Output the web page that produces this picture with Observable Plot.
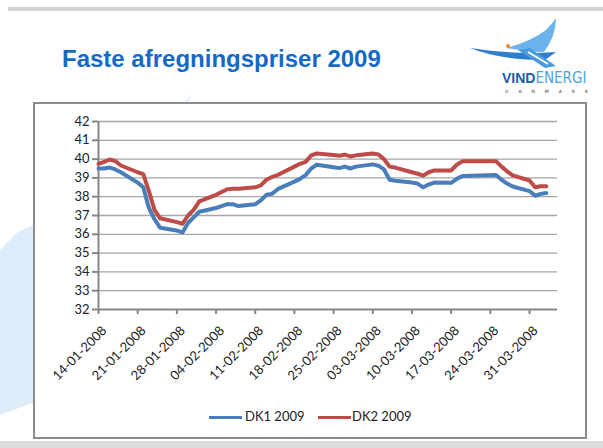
<!DOCTYPE html>
<html>
<head>
<meta charset="utf-8">
<script src="https://cdn.jsdelivr.net/npm/d3@7"></script>
<script src="https://cdn.jsdelivr.net/npm/@observablehq/plot@0.6"></script>
<style>
  html, body { margin: 0; padding: 0; background: #fff; }
  #page { position: relative; width: 603px; height: 448px; overflow: hidden; background: #fff; font-family: Lato, "Open Sans", sans-serif; }
  #title { position: absolute; left: 62px; top: 45px; font: bold 24px "Liberation Sans", Arial, sans-serif; color: #1469c7; white-space: nowrap; }
  #frame { position: absolute; left: 33px; top: 102px; width: 550px; height: 333px; border: 2px solid #8c8c8c; background: #fff; }
  #chart { position: absolute; left: 34px; top: 103px; }
  .leg { position: absolute; font: 13px Lato, sans-serif; color: #222; white-space: nowrap; }
  .sw { position: absolute; height: 3px; }
</style>
</head>
<body>
<div id="page">
  <svg width="603" height="448" style="position:absolute;left:0;top:0">
    <rect x="8" y="7" width="595" height="4" fill="#d4d4d4"/>
    <rect x="0" y="441" width="603" height="7" fill="#dcdcdc"/>
    <path d="M0,250 L18,232 L40,222 L40,400 L0,415 Z" fill="#dcecf9"/>
    <path d="M178,112 Q184,100 192,94 Q188,104 184,114 Z" fill="#e8f2fb"/>
    <!-- logo bird -->
    <path d="M470,48 Q500,60 545,60 L556,52 Q515,55 470,48 Z" fill="#2f7fcf"/>
    <path d="M506,48 Q530,42 546,30 Q552,24 556,18 Q556,36 544,52 Q528,52 506,48 Z" fill="#6bb3ea"/>
    <path d="M518,50 L545,68 L556,66 L530,48 Z" fill="#4a9ae0"/>
    <path d="M528,52 L548,64" stroke="#fff" stroke-width="2"/>
    <circle cx="508" cy="46" r="2" fill="#f08a24"/>
    <text x="502" y="83" font-family="'Liberation Sans', Arial, sans-serif" font-size="14" font-weight="bold" fill="#1b5ea8">VIND<tspan font-weight="normal" fill="#4aa2e0" font-family="'Liberation Sans Narrow', 'DejaVu Sans Condensed', sans-serif" font-size="15">ENERGI</tspan></text>
    <text x="505" y="93" font-family="'DejaVu Sans', sans-serif" font-size="4.5" fill="#333" letter-spacing="10">DANMARK</text>
  </svg>
  <div id="title">Faste afregningspriser 2009</div>
  <div id="frame"></div>
  <div id="chart"></div>
  <div class="sw" style="left:209px;top:416px;width:33px;background:#4a7ebb"></div>
  <div class="leg" style="left:245px;top:408px">DK1 2009</div>
  <div class="sw" style="left:318px;top:416px;width:33px;background:#be4b48"></div>
  <div class="leg" style="left:352px;top:408px">DK2 2009</div>
</div>
<script>
// ---- data ----
const dates = [
  "2008-01-14","2008-01-15","2008-01-16","2008-01-17","2008-01-18",
  "2008-01-21","2008-01-22","2008-01-23","2008-01-24","2008-01-25",
  "2008-01-28","2008-01-29","2008-01-30","2008-01-31","2008-02-01",
  "2008-02-04","2008-02-05","2008-02-06","2008-02-07","2008-02-08",
  "2008-02-11","2008-02-12","2008-02-13","2008-02-14","2008-02-15",
  "2008-02-18","2008-02-19","2008-02-20","2008-02-21","2008-02-22",
  "2008-02-25","2008-02-26","2008-02-27","2008-02-28","2008-02-29",
  "2008-03-03","2008-03-04","2008-03-05","2008-03-06","2008-03-07",
  "2008-03-10","2008-03-11","2008-03-12","2008-03-13","2008-03-14",
  "2008-03-17","2008-03-18","2008-03-19","2008-03-25","2008-03-26",
  "2008-03-27","2008-03-28","2008-03-31","2008-04-01","2008-04-02","2008-04-03"
];
const dk1 = [
  39.5, 39.5, 39.55, 39.45, 39.3,
  38.75, 38.5, 37.4, 36.8, 36.35,
  36.2, 36.1, 36.6, 36.9, 37.2,
  37.4, 37.5, 37.6, 37.6, 37.5,
  37.6, 37.8, 38.1, 38.15, 38.4,
  38.8, 38.95, 39.15, 39.5, 39.7,
  39.57, 39.52, 39.6, 39.5, 39.6,
  39.72, 39.65, 39.45, 38.9, 38.85,
  38.75, 38.7, 38.5, 38.65, 38.75,
  38.74, 38.95, 39.1, 39.16, 38.9,
  38.7, 38.54, 38.3, 38.05, 38.15, 38.2
];
const dk2 = [
  39.75, 39.85, 39.98, 39.9, 39.66,
  39.3, 39.2, 38.3, 37.3, 36.85,
  36.65, 36.56, 37.0, 37.3, 37.75,
  38.1, 38.25, 38.4, 38.42, 38.42,
  38.5, 38.6, 38.9, 39.05, 39.15,
  39.6, 39.75, 39.85, 40.2, 40.3,
  40.22, 40.18, 40.24, 40.14, 40.2,
  40.3, 40.25, 40.0, 39.6, 39.55,
  39.3, 39.22, 39.12, 39.3, 39.4,
  39.4, 39.7, 39.88, 39.89, 39.6,
  39.35, 39.13, 38.86, 38.5, 38.56, 38.55
];
const seriesNames = ["DK1 2009", "DK2 2009"];
const seriesColors = ["#4a7ebb", "#be4b48"];
const yTicks = [32, 33, 34, 35, 36, 37, 38, 39, 40, 41, 42];
const xTickDates = [
  "2008-01-14","2008-01-21","2008-01-28","2008-02-04","2008-02-11","2008-02-18",
  "2008-02-25","2008-03-03","2008-03-10","2008-03-17","2008-03-24","2008-03-31"
];
const xDomain = ["2008-01-14", "2008-04-05"];

// ---- build table ----
const parse = d3.utcParse("%Y-%m-%d");
const table = [];
[dk1, dk2].forEach((vals, i) => {
  vals.forEach((v, j) => table.push({date: parse(dates[j]), value: v, series: seriesNames[i]}));
});
const fmt = d3.utcFormat("%d-%m-%Y");
const xt = xTickDates.map(parse);

const chart = Plot.plot({
  width: 551,
  height: 296,
  marginLeft: 64,
  marginRight: 28,
  marginTop: 18,
  marginBottom: 90,
  style: {fontFamily: "Lato, 'Open Sans', sans-serif", background: "transparent", color: "#222"},
  x: {type: "utc", domain: xDomain.map(parse), label: null},
  y: {domain: [32, 42], label: null},
  color: {domain: seriesNames, range: seriesColors},
  marks: [
    Plot.ruleY(yTicks.slice(1), {stroke: "#a6a6a6", strokeWidth: 1.3}),
    Plot.axisY({ticks: yTicks, tickSize: 6, tickPadding: 3, fontSize: 13, stroke: "#868686", strokeWidth: 2, label: null}),
    Plot.axisX({ticks: xt, tickFormat: () => "", tickSize: 5, stroke: "#868686", strokeWidth: 2, label: null}),
    Plot.axisX({ticks: xt, tickFormat: fmt, tickSize: 0, tickPadding: 19, tickRotate: -45, dx: 6, fontSize: 13, label: null}),
    Plot.ruleX([parse(xDomain[0])], {stroke: "#868686", strokeWidth: 2}),
    Plot.ruleY([32], {stroke: "#868686", strokeWidth: 2}),
    Plot.lineY(table, {x: "date", y: "value", z: "series", stroke: "series", strokeWidth: 4, strokeLinejoin: "round", strokeLinecap: "round"})
  ]
});
document.getElementById("chart").appendChild(chart);
</script>
</body>
</html>
